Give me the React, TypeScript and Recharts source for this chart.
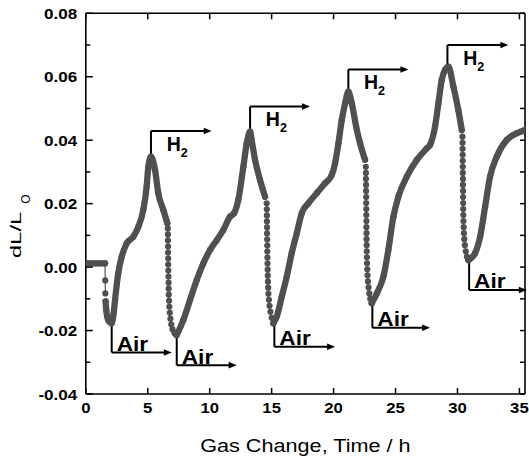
import React from "react";
import {
  ComposedChart,
  Scatter,
  XAxis,
  YAxis,
  ReferenceLine,
} from "recharts";

// curve: dense (solid) stretches and the sparse dotted drops
const flatStart = [
  { x: 0, y: 0.0012 }, { x: 0.4, y: 0.0012 }, { x: 0.8, y: 0.0012 },
  { x: 1.2, y: 0.0012 }, { x: 1.55, y: 0.0012 },
];
const drop0 = [{ x: 1.55, y: 0.0012 }, { x: 1.57, y: -0.0042 }, { x: 1.58, y: -0.0083 }];
const cycle1 = [
  { x: 1.6, y: -0.0108 }, { x: 1.65, y: -0.0135 }, { x: 1.72, y: -0.0155 }, { x: 1.85, y: -0.017 },
  { x: 2.09, y: -0.0177 }, { x: 2.25, y: -0.0145 }, { x: 2.36, y: -0.0104 }, { x: 2.62, y: -0.0019 },
  { x: 2.9, y: 0.0033 }, { x: 3.3, y: 0.0075 }, { x: 3.84, y: 0.0096 }, { x: 4.24, y: 0.0127 },
  { x: 4.64, y: 0.018 }, { x: 4.91, y: 0.0253 }, { x: 5.05, y: 0.0317 }, { x: 5.26, y: 0.0348 },
  { x: 5.59, y: 0.0306 }, { x: 5.85, y: 0.0233 }, { x: 6.26, y: 0.018 }, { x: 6.58, y: 0.0138 },
];
const drop1 = [
  { x: 6.62, y: 0.0122 }, { x: 6.63, y: 0.0103 }, { x: 6.63, y: 0.0084 }, { x: 6.64, y: 0.0065 },
  { x: 6.64, y: 0.0046 }, { x: 6.65, y: 0.0027 }, { x: 6.65, y: 0.0008 }, { x: 6.66, y: -0.0011 },
  { x: 6.67, y: -0.003 }, { x: 6.68, y: -0.0049 }, { x: 6.69, y: -0.0068 }, { x: 6.7, y: -0.0087 },
  { x: 6.72, y: -0.0106 }, { x: 6.74, y: -0.0125 }, { x: 6.78, y: -0.0144 }, { x: 6.83, y: -0.0163 },
  { x: 6.9, y: -0.0181 }, { x: 7.0, y: -0.0196 }, { x: 7.15, y: -0.0208 }, { x: 7.32, y: -0.0215 },
];
const cycle2 = [
  { x: 7.34, y: -0.0214 }, { x: 7.87, y: -0.0167 }, { x: 8.41, y: -0.0104 }, { x: 8.95, y: -0.0041 },
  { x: 9.49, y: 0.0012 }, { x: 10.03, y: 0.0054 }, { x: 10.57, y: 0.0085 }, { x: 11.1, y: 0.0117 },
  { x: 11.64, y: 0.0159 }, { x: 11.97, y: 0.017 }, { x: 12.31, y: 0.0212 }, { x: 12.72, y: 0.0317 },
  { x: 12.99, y: 0.039 }, { x: 13.26, y: 0.0427 }, { x: 13.39, y: 0.04 }, { x: 13.66, y: 0.0338 },
  { x: 14.06, y: 0.0275 }, { x: 14.47, y: 0.0222 },
];
const drop2 = [
  { x: 14.6, y: 0.0201 }, { x: 14.61, y: 0.0182 }, { x: 14.62, y: 0.0163 }, { x: 14.62, y: 0.0144 },
  { x: 14.63, y: 0.0125 }, { x: 14.63, y: 0.0106 }, { x: 14.64, y: 0.0087 }, { x: 14.65, y: 0.0068 },
  { x: 14.65, y: 0.0049 }, { x: 14.66, y: 0.003 }, { x: 14.67, y: 0.0011 }, { x: 14.68, y: -0.0008 },
  { x: 14.69, y: -0.0027 }, { x: 14.7, y: -0.0046 }, { x: 14.72, y: -0.0065 }, { x: 14.74, y: -0.0084 },
  { x: 14.78, y: -0.0103 }, { x: 14.83, y: -0.0122 }, { x: 14.9, y: -0.0141 }, { x: 15.0, y: -0.016 },
  { x: 15.14, y: -0.0177 },
];
const cycle3 = [
  { x: 15.14, y: -0.0177 }, { x: 15.41, y: -0.0156 }, { x: 15.82, y: -0.0093 }, { x: 16.22, y: -0.003 },
  { x: 16.62, y: 0.0044 }, { x: 17.03, y: 0.0107 }, { x: 17.43, y: 0.017 }, { x: 17.96, y: 0.0201 },
  { x: 18.64, y: 0.0233 }, { x: 19.31, y: 0.0264 }, { x: 19.85, y: 0.029 }, { x: 20.12, y: 0.0327 },
  { x: 20.39, y: 0.039 }, { x: 20.66, y: 0.0464 }, { x: 20.93, y: 0.0516 }, { x: 21.19, y: 0.0553 },
  { x: 21.47, y: 0.0516 }, { x: 21.82, y: 0.0443 }, { x: 22.14, y: 0.039 }, { x: 22.54, y: 0.0338 },
];
const drop3 = [
  { x: 22.6, y: 0.0316 }, { x: 22.61, y: 0.0297 }, { x: 22.61, y: 0.0278 }, { x: 22.62, y: 0.0259 },
  { x: 22.62, y: 0.024 }, { x: 22.63, y: 0.0221 }, { x: 22.63, y: 0.0202 }, { x: 22.64, y: 0.0183 },
  { x: 22.64, y: 0.0164 }, { x: 22.65, y: 0.0145 }, { x: 22.65, y: 0.0126 }, { x: 22.66, y: 0.0107 },
  { x: 22.66, y: 0.0088 }, { x: 22.67, y: 0.0069 }, { x: 22.68, y: 0.005 }, { x: 22.69, y: 0.0031 },
  { x: 22.7, y: 0.0012 }, { x: 22.72, y: -0.0007 }, { x: 22.74, y: -0.0026 }, { x: 22.77, y: -0.0045 },
  { x: 22.82, y: -0.0064 }, { x: 22.88, y: -0.0083 }, { x: 22.96, y: -0.01 }, { x: 23.08, y: -0.0114 },
];
const cycle4 = [
  { x: 23.08, y: -0.0114 }, { x: 23.49, y: -0.0083 }, { x: 24.02, y: -0.003 }, { x: 24.42, y: 0.0054 },
  { x: 24.83, y: 0.0159 }, { x: 25.23, y: 0.0222 }, { x: 25.91, y: 0.0285 }, { x: 26.72, y: 0.0338 },
  { x: 27.52, y: 0.0374 }, { x: 27.79, y: 0.0385 }, { x: 28.19, y: 0.0443 }, { x: 28.46, y: 0.0516 },
  { x: 28.73, y: 0.059 }, { x: 29.0, y: 0.0622 }, { x: 29.27, y: 0.0632 }, { x: 29.67, y: 0.0569 },
  { x: 30.07, y: 0.0495 }, { x: 30.35, y: 0.0432 },
];
const drop4 = [
  { x: 30.4, y: 0.0411 }, { x: 30.41, y: 0.0392 }, { x: 30.41, y: 0.0373 }, { x: 30.42, y: 0.0354 },
  { x: 30.42, y: 0.0335 }, { x: 30.43, y: 0.0316 }, { x: 30.43, y: 0.0297 }, { x: 30.44, y: 0.0278 },
  { x: 30.44, y: 0.0259 }, { x: 30.45, y: 0.024 }, { x: 30.45, y: 0.0221 }, { x: 30.46, y: 0.0202 },
  { x: 30.46, y: 0.0183 }, { x: 30.47, y: 0.0164 }, { x: 30.48, y: 0.0145 }, { x: 30.5, y: 0.0126 },
  { x: 30.52, y: 0.0107 }, { x: 30.55, y: 0.0088 }, { x: 30.6, y: 0.0069 }, { x: 30.67, y: 0.005 },
  { x: 30.76, y: 0.0033 }, { x: 30.88, y: 0.0022 },
];
const cycle5 = [
  { x: 30.88, y: 0.0022 }, { x: 31.42, y: 0.0044 }, { x: 31.83, y: 0.0096 }, { x: 32.23, y: 0.019 },
  { x: 32.63, y: 0.0285 }, { x: 33.17, y: 0.0348 }, { x: 33.98, y: 0.0401 }, { x: 34.79, y: 0.0422 },
  { x: 35.46, y: 0.0432 },
];

const solidParts = [flatStart, cycle1, cycle2, cycle3, cycle4, cycle5];
const dottedParts = [drop0, drop1, drop2, drop3, drop4];

// gas switch markers: vertical from the curve, then an arrow to the right
const h2Marks = [
  { x: 5.26, from: 0.0348, level: 0.0429, end: 10.16 },
  { x: 13.26, from: 0.0427, level: 0.0506, end: 18.1 },
  { x: 21.19, from: 0.0553, level: 0.0623, end: 26.04 },
  { x: 29.19, from: 0.0632, level: 0.07, end: 34.11 },
];
const airMarks = [
  { x: 2.09, from: -0.0177, level: -0.0269, end: 6.94 },
  { x: 7.34, from: -0.0214, level: -0.0309, end: 12.18 },
  { x: 15.22, from: -0.0177, level: -0.0251, end: 20.12 },
  { x: 23.13, from: -0.0114, level: -0.0191, end: 27.79 },
  { x: 30.94, from: 0.0022, level: -0.0072, end: 35.6 },
];

const xTicks = [0, 5, 10, 15, 20, 25, 30, 35];
const yTicks = [-0.04, -0.03, -0.02, -0.01, 0, 0.01, 0.02, 0.03, 0.04, 0.05, 0.06, 0.07, 0.08];

const FONT = "'Liberation Sans', Arial, Helvetica, sans-serif";
const GRAY = "#505050";
const X_DOMAIN = [0, 35.45];
const Y_DOMAIN = [-0.04, 0.08];

const isMajor = (v: number) => Math.round(v * 100) % 2 === 0;

const BottomTick = ({ x, y, payload }: any) => (
  <g>
    <line x1={x} x2={x} y1={y} y2={y - 6} stroke="#000" strokeWidth={1.5} />
    <text
      transform={`translate(${x},${y + 18.7}) scale(1.08,1)`}
      textAnchor="middle"
      fontFamily={FONT}
      fontSize={15.5}
      fontWeight="bold"
      fill="#000"
    >
      {payload.value}
    </text>
  </g>
);

const TopTick = ({ x, y }: any) => (
  <line x1={x} x2={x} y1={y} y2={y + 6} stroke="#000" strokeWidth={1.5} />
);

const LeftTick = ({ x, y, payload }: any) => {
  const major = isMajor(payload.value);
  return (
    <g>
      <line x1={x} x2={x + (major ? 7 : 4.5)} y1={y} y2={y} stroke="#000" strokeWidth={1.5} />
      {major && (
        <text
          transform={`translate(${x - 8.5},${y}) scale(1.1,1)`}
          dy="0.36em"
          textAnchor="end"
          fontFamily={FONT}
          fontSize={15.5}
          fontWeight="bold"
          fill="#000"
        >
          {payload.value.toFixed(2)}
        </text>
      )}
    </g>
  );
};

const RightTick = ({ x, y }: any) => (
  <line x1={x} x2={x - 5} y1={y} y2={y} stroke="#000" strokeWidth={1.5} />
);

const XTitle = ({ viewBox }: any) => (
  <text
    transform={`translate(${viewBox.x + viewBox.width / 2},${viewBox.y + 57.7}) scale(1.17,1)`}
    textAnchor="middle"
    fontFamily={FONT}
    fontSize={18.5}
    fill="#000"
  >
    Gas Change, Time / h
  </text>
);

const YTitle = ({ viewBox }: any) => (
  <g>
    <text
      transform={`translate(${viewBox.x + 20.7},${viewBox.y + 245}) rotate(-90) scale(1.55,1)`}
      textAnchor="start"
      fontFamily={FONT}
      fontSize={15.5}
      fill="#000"
    >
      dL/L
    </text>
    <text
      transform={`translate(${viewBox.x + 30},${viewBox.y + 190.5}) rotate(-90)`}
      textAnchor="start"
      fontFamily={FONT}
      fontSize={12}
      fill="#000"
    >
      O
    </text>
  </g>
);

const arrowShape = (kind: "h2" | "air") => (p: any) => {
  const { x1, y1, x2, y2 } = p;
  return (
    <g>
      <line x1={x1} y1={y1} x2={x2 - 6} y2={y2} stroke="#000" strokeWidth={2} />
      <polygon points={`${x2},${y2} ${x2 - 8},${y2 - 3.3} ${x2 - 8},${y2 + 3.3}`} fill="#000" />
      {kind === "h2" ? (
        <text x={x1 + 15.7} y={y1 + 19.7} fontFamily={FONT} fontSize={19.5} fontWeight="bold" fill="#000">
          H<tspan fontSize={12.5} dy={6}>2</tspan>
        </text>
      ) : (
        <text
          transform={`translate(${x1 + 5},${y1 - 1.5}) scale(1.08,1)`}
          fontFamily={FONT}
          fontSize={21}
          fontWeight="bold"
          fill="#000"
        >
          Air
        </text>
      )}
    </g>
  );
};

const dot = (r: number) => (p: any) => <circle cx={p.cx} cy={p.cy} r={r} fill={GRAY} />;
const noDot = () => <g />;

export default function App() {
  return (
    <div style={{ position: "absolute", left: 0, top: 0, background: "#fff" }}>
      <ComposedChart width={529} height={459} margin={{ top: 12.3, right: 3, bottom: 0, left: 0 }}>
        <XAxis
          dataKey="x"
          type="number"
          domain={X_DOMAIN}
          allowDataOverflow
          ticks={xTicks}
          interval={0}
          height={65}
          tickSize={0}
          tickMargin={0}
          tickLine={false}
          axisLine={{ stroke: "#000", strokeWidth: 1.6 }}
          tick={<BottomTick />}
          label={{ content: XTitle }}
        />
        <XAxis
          xAxisId="top"
          dataKey="x"
          orientation="top"
          type="number"
          domain={X_DOMAIN}
          allowDataOverflow
          ticks={xTicks}
          interval={0}
          height={1}
          tickSize={0}
          tickMargin={0}
          tickLine={false}
          axisLine={{ stroke: "#000", strokeWidth: 1.6 }}
          tick={<TopTick />}
        />
        <YAxis
          dataKey="y"
          type="number"
          domain={Y_DOMAIN}
          allowDataOverflow
          ticks={yTicks}
          interval={0}
          width={85.8}
          tickSize={0}
          tickMargin={0}
          tickLine={false}
          axisLine={{ stroke: "#000", strokeWidth: 1.6 }}
          tick={<LeftTick />}
          label={{ content: YTitle }}
        />
        <YAxis
          yAxisId="right"
          dataKey="y"
          orientation="right"
          type="number"
          domain={Y_DOMAIN}
          allowDataOverflow
          ticks={yTicks}
          interval={0}
          width={1}
          tickSize={0}
          tickMargin={0}
          tickLine={false}
          axisLine={{ stroke: "#000", strokeWidth: 1.6 }}
          tick={<RightTick />}
        />

        {/* invisible copy so the mirrored top/right frame axes get a scale */}
        <Scatter
          data={flatStart}
          xAxisId="top"
          yAxisId="right"
          shape={noDot}
          legendType="none"
          isAnimationActive={false}
        />

        {solidParts.map((part, i) => (
          <Scatter
            key={`solid-${i}`}
            data={part}
            fill={GRAY}
            line={{ stroke: GRAY, strokeWidth: 6.3, strokeLinecap: "round", strokeLinejoin: "round" }}
            lineJointType="monotoneX"
            shape={dot(3.1)}
            isAnimationActive={false}
          />
        ))}
        {dottedParts.map((part, i) => (
          <Scatter
            key={`dots-${i}`}
            data={part}
            fill={GRAY}
            line={{ stroke: GRAY, strokeWidth: 1.2 }}
            shape={dot(3.1)}
            isAnimationActive={false}
          />
        ))}

        {h2Marks.map((m, i) => (
          <ReferenceLine
            key={`h2v-${i}`}
            segment={[{ x: m.x, y: m.from }, { x: m.x, y: m.level }]}
            stroke="#000"
            strokeWidth={2}
            ifOverflow="visible"
          />
        ))}
        {h2Marks.map((m, i) => (
          <ReferenceLine
            key={`h2h-${i}`}
            segment={[{ x: m.x, y: m.level }, { x: m.end, y: m.level }]}
            ifOverflow="visible"
            shape={arrowShape("h2")}
          />
        ))}
        {airMarks.map((m, i) => (
          <ReferenceLine
            key={`airv-${i}`}
            segment={[{ x: m.x, y: m.from }, { x: m.x, y: m.level }]}
            stroke="#000"
            strokeWidth={2}
            ifOverflow="visible"
          />
        ))}
        {airMarks.map((m, i) => (
          <ReferenceLine
            key={`airh-${i}`}
            segment={[{ x: m.x, y: m.level }, { x: m.end, y: m.level }]}
            ifOverflow="visible"
            shape={arrowShape("air")}
          />
        ))}
      </ComposedChart>
    </div>
  );
}
